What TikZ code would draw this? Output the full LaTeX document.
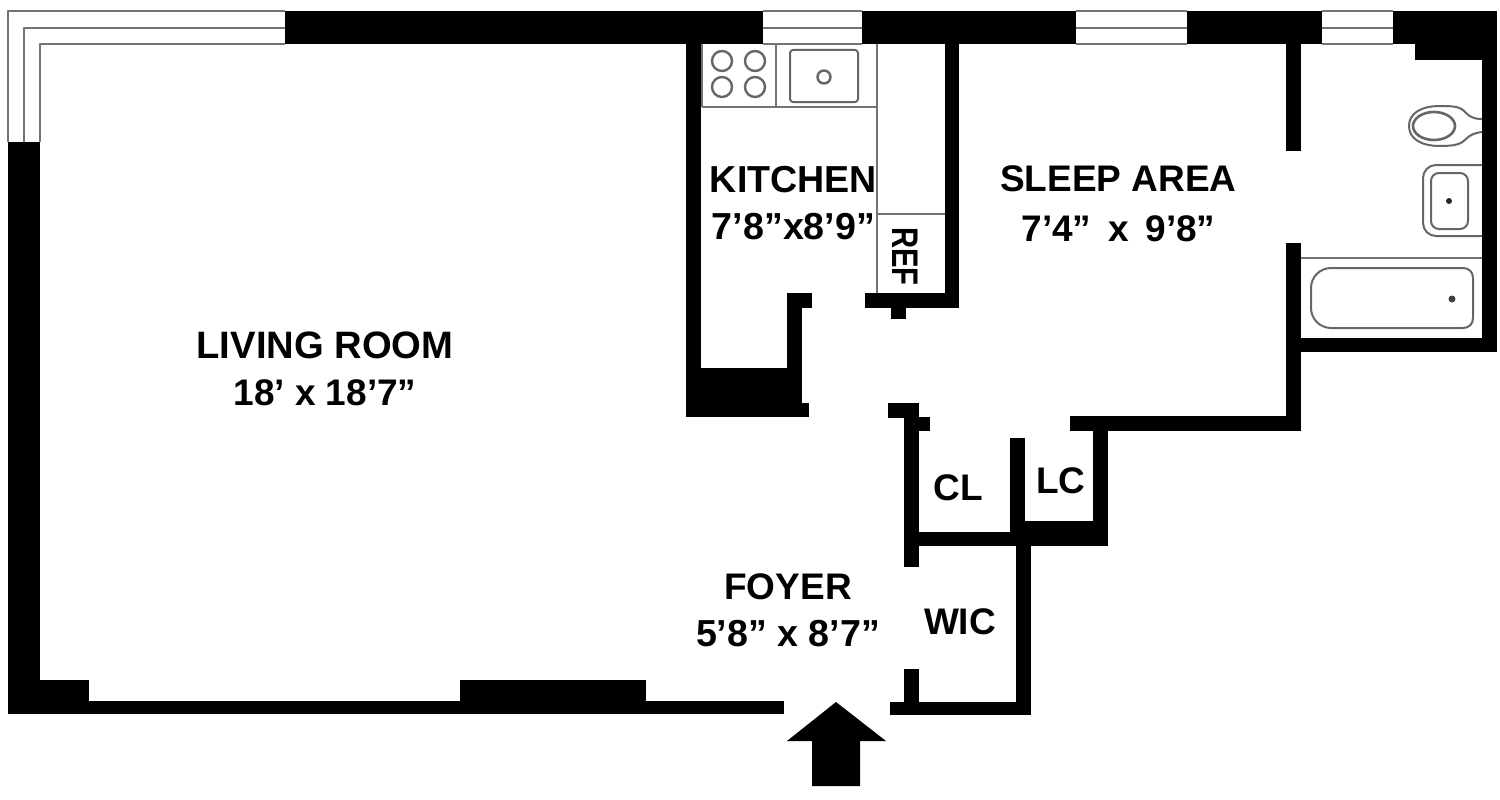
\documentclass[tikz,border=0pt]{standalone}
\usepackage{fontspec}
\setmainfont{Liberation Sans}
\tikzset{
  wall/.style={fill=black,draw=none},
  thin line/.style={draw=black!55,line width=2pt,line join=round},
  fixture/.style={draw=black!60,line width=2pt,fill=none},
  label text/.style={font=\bfseries\fontsize{37}{47}\selectfont,align=center,inner sep=0pt,text=black},
}
\begin{document}
\begin{tikzpicture}[x=1pt,y=-1pt]
\useasboundingbox[fill=white] (0,0) rectangle (1500,800);
% corner windows
\draw[thin line] (8,142) -- (8,11) -- (285,11);
\draw[thin line] (24,142) -- (24,28) -- (285,28);
\draw[thin line] (40,142) -- (40,44) -- (285,44);
% top windows
\foreach \a/\b in {763/862,1076/1187,1322/1393}{
  \draw[thin line] (\a,11) -- (\b,11);
  \draw[thin line] (\a,28) -- (\b,28);
  \draw[thin line] (\a,44) -- (\b,44);
}
% outer walls
\fill[wall] (285,11) rectangle (763,44);
\fill[wall] (862,11) rectangle (1076,44);
\fill[wall] (1187,11) rectangle (1322,44);
\fill[wall] (1393,11) rectangle (1497,44);
\fill[wall] (1415,44) rectangle (1497,60);
\fill[wall] (1482,60) rectangle (1497,352);
\fill[wall] (1286,338) rectangle (1497,352);
\fill[wall] (1286,44) rectangle (1301,151);
\fill[wall] (1286,243) rectangle (1301,431);
\fill[wall] (1070,416) rectangle (1301,431);
\fill[wall] (8,142) rectangle (40,714);
\fill[wall] (8,680) rectangle (89,714);
\fill[wall] (8,701) rectangle (784,714);
\fill[wall] (460,680) rectangle (646,714);
\fill[wall] (890,702) rectangle (1031,715);
\fill[wall] (904,669) rectangle (919,702);
\fill[wall] (1016,540) rectangle (1031,715);
% closets
\fill[wall] (904,403) rectangle (919,567);
\fill[wall] (888,403) rectangle (919,418);
\fill[wall] (919,417) rectangle (930,431);
\fill[wall] (919,532) rectangle (1016,546);
\fill[wall] (1010,438) rectangle (1025,546);
\fill[wall] (1010,521) rectangle (1108,546);
\fill[wall] (1093,416) rectangle (1108,546);
% kitchen walls
\fill[wall] (686,44) rectangle (701,417);
\fill[wall] (686,368) rectangle (802,417);
\fill[wall] (802,403) rectangle (809,417);
\fill[wall] (787,293) rectangle (802,368);
\fill[wall] (787,293) rectangle (812,308);
\fill[wall] (865,293) rectangle (959,308);
\fill[wall] (891,308) rectangle (906,319);
\fill[wall] (945,44) rectangle (959,308);
% kitchen fixtures
\draw[thin line] (702,107) -- (877,107);
\draw[thin line] (702,44) -- (702,107);
\draw[thin line] (776,44) -- (776,107);
\draw[thin line] (877,44) -- (877,293);
\draw[thin line] (877,214) -- (945,214);
\foreach \p in {(722,61),(755,61),(722,87),(755,87)}{
  \draw[fixture,line width=2.4pt] \p circle[radius=10];
}
\draw[fixture,rounded corners=3pt] (790,50) rectangle (858,102);
\draw[fixture,line width=2.4pt] (824,77) circle[radius=6.5];
% toilet
\draw[fixture] (1482,119) .. controls (1474,119) and (1470,117) .. (1466,113)
  .. controls (1461,107) and (1456,106) .. (1440,106)
  .. controls (1420,106) and (1409,114) .. (1409,126)
  .. controls (1409,138) and (1420,146) .. (1440,146)
  .. controls (1456,146) and (1461,144) .. (1466,139)
  .. controls (1470,135) and (1474,133) .. (1482,132);
\draw[fixture,line width=2.6pt] (1434,126) ellipse[x radius=21,y radius=14];
% basin
\draw[fixture,rounded corners=13pt] (1482,165) -- (1423,165) -- (1423,236) -- (1482,236);
\draw[fixture,rounded corners=8pt] (1431,173) rectangle (1468,229);
\fill[black!85] (1449,201) circle[radius=3];
% tub
\draw[thin line] (1301,258) -- (1482,258);
\draw[fixture] (1331,268) -- (1463,268) .. controls (1469,268) and (1473,272) .. (1473,278)
  -- (1473,318) .. controls (1473,324) and (1469,328) .. (1463,328)
  -- (1331,328) .. controls (1320,328) and (1311,319) .. (1311,308)
  -- (1311,288) .. controls (1311,277) and (1320,268) .. (1331,268) -- cycle;
\fill[black!75] (1452,299) circle[radius=3.5];
% entry arrow
\fill[wall] (836,702) -- (886,741) -- (860,741) -- (860,786) -- (812,786) -- (812,741) -- (787,741) -- cycle;
% labels
\node[label text] (living) at (325,369) {{\fontsize{38.2}{47}\selectfont LIVING ROOM}\\18’ x 18’7”};
\node[label text] (kitchen) at (793.5,203) {{\fontsize{37.6}{47}\selectfont KITCHEN}\\{\fontsize{37.6}{47}\selectfont 7’8”x8’9”}};
\node[label text] (sleep) at (1118.5,204) {SLEEP AREA\\[3pt]7’4”\hspace{6.5pt} x\hspace{6.5pt} 9’8”};
\node[label text] (foyer) at (788,610) {FOYER\\{\fontsize{37.6}{47}\selectfont 5’8” x 8’7”}};
\node[label text] (cl) at (958,488) {CL};
\node[label text] (lc) at (1061,481) {LC};
\node[label text] (wic) at (960,622) {WIC};
\node[label text,rotate=-90] (ref) at (905.5,256.5) {\scalebox{0.79}[1]{REF}};
\end{tikzpicture}
\end{document}
